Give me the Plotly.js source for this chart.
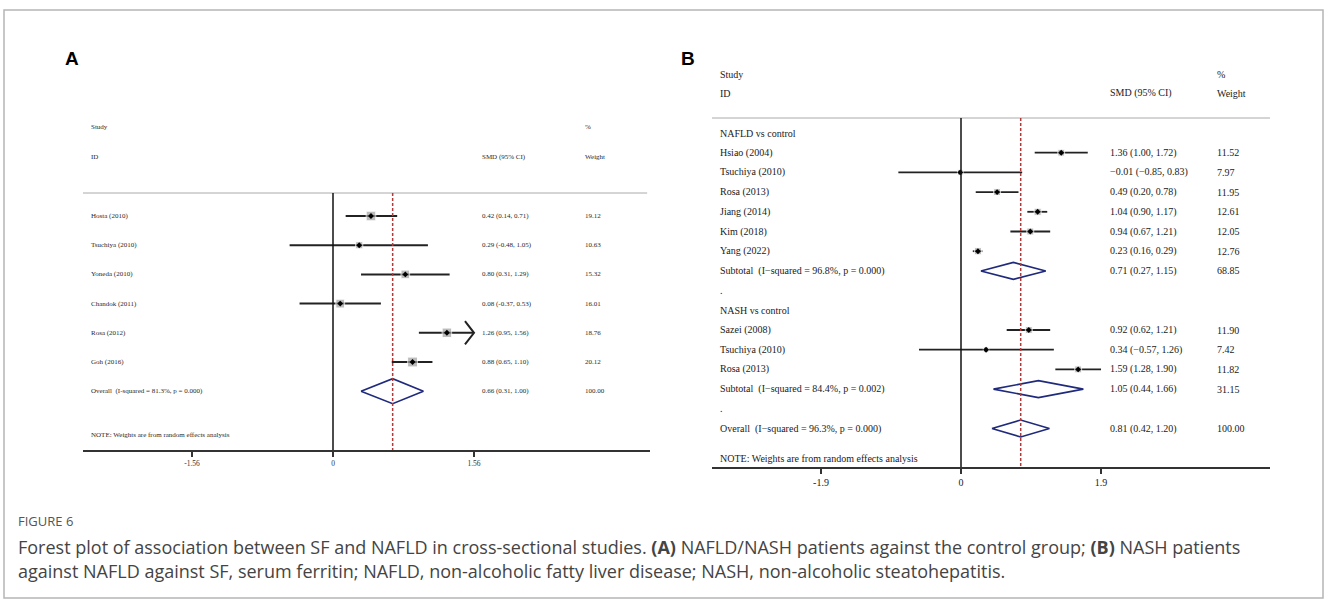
<!DOCTYPE html>
<html>
<head>
<meta charset="utf-8">
<script src="https://cdn.plot.ly/plotly-3.0.1.min.js"></script>
<style>html,body{margin:0;padding:0;background:#fff;}#chart{width:1328px;height:599px;}</style>
</head>
<body>
<div id="chart"></div>
<script>
// ---------- Panel A data ----------
const A_studies = ["Hosta (2010)", "Tsuchiya (2010)", "Yoneda (2010)", "Chandok (2011)", "Rosa (2012)", "Goh (2016)"];
const A_es = [0.42, 0.29, 0.80, 0.08, 1.26, 0.88];
const A_lo = [0.14, -0.48, 0.31, -0.37, 0.95, 0.65];
const A_hi = [0.71, 1.05, 1.29, 0.53, 1.56, 1.10];
const A_wt = [19.12, 10.63, 15.32, 16.01, 18.76, 20.12];
const A_overallLabel = "Overall  (I-squared = 81.3%, p = 0.000)";
const A_overall = [0.66, 0.31, 1.00];
const A_overallWt = 100.00;
const A_ticks = [-1.56, 0, 1.56];
const A_tickText = ["-1.56", "0", "1.56"];

// ---------- Panel B data ----------
const B_groups = ["NAFLD vs control", "NASH vs control"];
const B_studies = ["Hsiao (2004)", "Tsuchiya (2010)", "Rosa (2013)", "Jiang (2014)", "Kim (2018)", "Yang (2022)",
                   "Sazei (2008)", "Tsuchiya (2010)", "Rosa (2013)"];
const B_group = [0, 0, 0, 0, 0, 0, 1, 1, 1];
const B_es = [1.36, -0.01, 0.49, 1.04, 0.94, 0.23, 0.92, 0.34, 1.59];
const B_lo = [1.00, -0.85, 0.20, 0.90, 0.67, 0.16, 0.62, -0.57, 1.28];
const B_hi = [1.72, 0.83, 0.78, 1.17, 1.21, 0.29, 1.21, 1.26, 1.90];
const B_wt = [11.52, 7.97, 11.95, 12.61, 12.05, 12.76, 11.90, 7.42, 11.82];
const B_subLabels = ["Subtotal  (I\u2212squared = 96.8%, p = 0.000)", "Subtotal  (I\u2212squared = 84.4%, p = 0.002)"];
const B_subEs = [0.71, 1.05];
const B_subLo = [0.27, 0.44];
const B_subHi = [1.15, 1.66];
const B_subWt = [68.85, 31.15];
const B_overallLabel = "Overall  (I\u2212squared = 96.3%, p = 0.000)";
const B_overall = [0.81, 0.42, 1.20];
const B_overallWt = 100.00;
const B_ticks = [-1.9, 0, 1.9];
const B_tickText = ["-1.9", "0", "1.9"];

const noteText = "NOTE: Weights are from random effects analysis";

// ---------- helpers ----------
const W = 1328, H = 599;
const px = x => x / W;
const py = y => 1 - y / H;
function fmt(v, minus) { return (v < 0 ? minus : "") + Math.abs(v).toFixed(2); }
function ciText(e, l, h, minus) { return fmt(e, minus) + " (" + fmt(l, minus) + ", " + fmt(h, minus) + ")"; }

const serif = "Liberation Serif, Times New Roman, serif";
const annotations = [];
const shapes = [];
const traces = [];

function txt(xref, yref, x, y, text, size, color) {
  annotations.push({xref: xref, yref: yref, x: x, y: y, text: text, showarrow: false,
    xanchor: "left", yanchor: "middle", font: {family: serif, size: size, color: color || "#222"}});
}

// ---------- Panel A geometry ----------
const A_x0 = 83, A_x1 = 650, A_zero = 333, A_ppu = 90.4;
const A_rowTop = 216, A_rowH = 29.2, A_axisY = 450, A_domTop = 60;
const A_range = [(A_x0 - A_zero) / A_ppu, (A_x1 - A_zero) / A_ppu];
const A_yr = [(A_axisY - A_rowTop) / A_rowH, (A_domTop - A_rowTop) / A_rowH];
const A_lx = (89 - A_zero) / A_ppu, A_sx = (480 - A_zero) / A_ppu, A_wx = (583 - A_zero) / A_ppu;
const A_sep = (193 - A_rowTop) / A_rowH;
const A_fs = 7, A_col = "#2a2a2a";

txt("x", "y", A_lx, (127 - A_rowTop) / A_rowH, "Study", A_fs, A_col);
txt("x", "y", A_lx, (157 - A_rowTop) / A_rowH, "ID", A_fs, A_col);
txt("x", "y", A_sx, (157 - A_rowTop) / A_rowH, "SMD (95% CI)", A_fs, A_col);
txt("x", "y", A_wx, (127 - A_rowTop) / A_rowH, "%", A_fs, A_col);
txt("x", "y", A_wx, (157 - A_rowTop) / A_rowH, "Weight", A_fs, A_col);

const A_clip = Math.max(...A_ticks);
const A_ciX = [], A_ciY = [], A_arrX = [], A_arrY = [];
A_studies.forEach((s, i) => {
  txt("x", "y", A_lx, i, s, A_fs, A_col);
  txt("x", "y", A_sx, i, ciText(A_es[i], A_lo[i], A_hi[i], "-"), A_fs, A_col);
  txt("x", "y", A_wx, i, A_wt[i].toFixed(2), A_fs, A_col);
  const hi = Math.min(A_hi[i], A_clip);
  A_ciX.push(A_lo[i], hi, null); A_ciY.push(i, i, null);
  if (A_hi[i] >= A_clip) {
    A_arrX.push(A_clip - 0.1, A_clip, A_clip - 0.1, null);
    A_arrY.push(i - 0.4, i, i + 0.4, null);
  }
});
const A_ovRow = A_studies.length;
txt("x", "y", A_lx, A_ovRow, A_overallLabel, A_fs, A_col);
txt("x", "y", A_sx, A_ovRow, ciText(A_overall[0], A_overall[1], A_overall[2], "-"), A_fs, A_col);
txt("x", "y", A_wx, A_ovRow, A_overallWt.toFixed(2), A_fs, A_col);
txt("x", "y", A_lx, A_ovRow + 1.5, noteText, A_fs, A_col);

traces.push({x: A_ciX, y: A_ciY, xaxis: "x", yaxis: "y", mode: "lines", line: {color: "#222", width: 2}, hoverinfo: "skip"});
traces.push({x: A_arrX, y: A_arrY, xaxis: "x", yaxis: "y", mode: "lines", line: {color: "#222", width: 2}, hoverinfo: "skip"});
traces.push({x: A_es, y: A_es.map((_, i) => i), xaxis: "x", yaxis: "y", mode: "markers",
  marker: {symbol: "square", color: "#a0a0a0", size: A_wt.map(w => 2.2 * Math.sqrt(w))}, hoverinfo: "skip"});
traces.push({x: A_es, y: A_es.map((_, i) => i), xaxis: "x", yaxis: "y", mode: "markers",
  marker: {symbol: "diamond", color: "#000", size: 4.5}, hoverinfo: "skip"});
const dh = 0.43;
function diamond(xa, ya, e, l, h, r, hh) {
  traces.push({x: [l, e, h, e, l], y: [r, r - hh, r, r + hh, r], xaxis: xa, yaxis: ya, mode: "lines",
    line: {color: "#1f2a7c", width: 1.6}, hoverinfo: "skip"});
}
diamond("x", "y", A_overall[0], A_overall[1], A_overall[2], A_ovRow, dh);

shapes.push({type: "line", xref: "x domain", yref: "y", x0: 0, x1: 0.995, y0: A_sep, y1: A_sep, line: {color: "#aaa", width: 1}});
shapes.push({type: "line", xref: "x", yref: "y", x0: 0, x1: 0, y0: A_sep, y1: A_yr[0], line: {color: "#111", width: 1.5}});
shapes.push({type: "line", xref: "x", yref: "y", x0: A_overall[0], x1: A_overall[0], y0: A_sep, y1: A_yr[0], line: {color: "#b03a3a", width: 1.5, dash: "3px,2px"}});

// ---------- Panel B geometry ----------
const B_x0 = 712, B_x1 = 1270, B_zero = 961, B_ppu = 73.7;
const B_rowTop = 133, B_rowH = 19.7, B_axisY = 467, B_domTop = 60;
const B_range = [(B_x0 - B_zero) / B_ppu, (B_x1 - B_zero) / B_ppu];
const B_yr = [(B_axisY - B_rowTop) / B_rowH, (B_domTop - B_rowTop) / B_rowH];
const B_lx = (718 - B_zero) / B_ppu, B_sx = (1108 - B_zero) / B_ppu, B_wx = (1215 - B_zero) / B_ppu;
const B_sep = (118 - B_rowTop) / B_rowH;
const B_fs = 10, B_col = "#1a1a1a";

txt("x2", "y2", B_lx, (74 - B_rowTop) / B_rowH, "Study", B_fs, B_col);
txt("x2", "y2", B_lx, (93 - B_rowTop) / B_rowH, "ID", B_fs, B_col);
txt("x2", "y2", B_sx, (93 - B_rowTop) / B_rowH, "SMD (95% CI)", B_fs, B_col);
txt("x2", "y2", B_wx, (74 - B_rowTop) / B_rowH, "%", B_fs, B_col);
txt("x2", "y2", B_wx, (93 - B_rowTop) / B_rowH, "Weight", B_fs, B_col);

const B_ciX = [], B_ciY = [], B_mx = [], B_my = [], B_ms = [];
let row = 0;
B_groups.forEach((g, gi) => {
  txt("x2", "y2", B_lx, row, g, B_fs, B_col);
  row++;
  B_studies.forEach((s, i) => {
    if (B_group[i] !== gi) return;
    txt("x2", "y2", B_lx, row, s, B_fs, B_col);
    txt("x2", "y2", B_sx, row, ciText(B_es[i], B_lo[i], B_hi[i], "\u2212"), B_fs, B_col);
    txt("x2", "y2", B_wx, row, B_wt[i].toFixed(2), B_fs, B_col);
    B_ciX.push(B_lo[i], B_hi[i], null); B_ciY.push(row, row, null);
    B_mx.push(B_es[i]); B_my.push(row); B_ms.push(2.0 * Math.sqrt(B_wt[i]));
    row++;
  });
  txt("x2", "y2", B_lx, row, B_subLabels[gi], B_fs, B_col);
  txt("x2", "y2", B_sx, row, ciText(B_subEs[gi], B_subLo[gi], B_subHi[gi], "\u2212"), B_fs, B_col);
  txt("x2", "y2", B_wx, row, B_subWt[gi].toFixed(2), B_fs, B_col);
  diamond("x2", "y2", B_subEs[gi], B_subLo[gi], B_subHi[gi], row, dh);
  row++;
  txt("x2", "y2", B_lx, row, ".", B_fs, B_col);
  row++;
});
txt("x2", "y2", B_lx, row, B_overallLabel, B_fs, B_col);
txt("x2", "y2", B_sx, row, ciText(B_overall[0], B_overall[1], B_overall[2], "\u2212"), B_fs, B_col);
txt("x2", "y2", B_wx, row, B_overallWt.toFixed(2), B_fs, B_col);
diamond("x2", "y2", B_overall[0], B_overall[1], B_overall[2], row, dh);
txt("x2", "y2", B_lx, row + 1.5, noteText, B_fs, B_col);

traces.push({x: B_ciX, y: B_ciY, xaxis: "x2", yaxis: "y2", mode: "lines", line: {color: "#222", width: 1.8}, hoverinfo: "skip"});
traces.push({x: B_mx, y: B_my, xaxis: "x2", yaxis: "y2", mode: "markers",
  marker: {symbol: "square", color: "#a0a0a0", size: B_ms}, hoverinfo: "skip"});
traces.push({x: B_mx, y: B_my, xaxis: "x2", yaxis: "y2", mode: "markers",
  marker: {symbol: "diamond", color: "#000", size: 4.5}, hoverinfo: "skip"});

shapes.push({type: "line", xref: "x2 domain", yref: "y2", x0: 0, x1: 1, y0: B_sep, y1: B_sep, line: {color: "#aaa", width: 1}});
shapes.push({type: "line", xref: "x2", yref: "y2", x0: 0, x1: 0, y0: B_sep, y1: B_yr[0], line: {color: "#111", width: 1.5}});
shapes.push({type: "line", xref: "x2", yref: "y2", x0: B_overall[0], x1: B_overall[0], y0: B_sep, y1: B_yr[0], line: {color: "#b03a3a", width: 1.5, dash: "3px,2px"}});

// ---------- frame, panel letters, caption ----------
shapes.push({type: "rect", xref: "paper", yref: "paper", x0: px(4), x1: px(1323), y0: py(598), y1: py(10), line: {color: "#b5b5b5", width: 1.5}});
annotations.push({xref: "paper", yref: "paper", x: px(63), y: py(58), text: "<b>A</b>", showarrow: false, xanchor: "left", yanchor: "middle",
  font: {family: "Liberation Sans, Arial, sans-serif", size: 19, color: "#000"}});
annotations.push({xref: "paper", yref: "paper", x: px(679), y: py(58), text: "<b>B</b>", showarrow: false, xanchor: "left", yanchor: "middle",
  font: {family: "Liberation Sans, Arial, sans-serif", size: 19, color: "#000"}});
annotations.push({xref: "paper", yref: "paper", x: px(16), y: py(521), text: "FIGURE 6", showarrow: false, xanchor: "left", yanchor: "middle",
  font: {family: "Open Sans, sans-serif", size: 13, color: "#555"}});
annotations.push({xref: "paper", yref: "paper", x: px(16), y: py(547),
  text: "Forest plot of association between SF and NAFLD in cross-sectional studies. <b>(A)</b> NAFLD/NASH patients against the control group; <b>(B)</b> NASH patients",
  showarrow: false, xanchor: "left", yanchor: "middle", font: {family: "Open Sans, sans-serif", size: 18, color: "#444"}});
annotations.push({xref: "paper", yref: "paper", x: px(16), y: py(571),
  text: "against NAFLD against SF, serum ferritin; NAFLD, non-alcoholic fatty liver disease; NASH, non-alcoholic steatohepatitis.",
  showarrow: false, xanchor: "left", yanchor: "middle", font: {family: "Open Sans, sans-serif", size: 18, color: "#444"}});

const layout = {
  width: W, height: H, margin: {l: 0, r: 0, t: 0, b: 0}, paper_bgcolor: "#fff", plot_bgcolor: "rgba(0,0,0,0)",
  showlegend: false,
  xaxis: {domain: [px(A_x0), px(A_x1)], range: A_range, anchor: "y", tickvals: A_ticks, ticktext: A_tickText,
    showgrid: false, zeroline: false, showline: true, linecolor: "#333", linewidth: 1.5, ticks: "outside",
    ticklen: 5, tickwidth: 1.5, tickcolor: "#333", tickfont: {family: serif, size: 7.5, color: "#333"}},
  yaxis: {domain: [py(A_axisY), py(A_domTop)], range: A_yr, visible: false, showgrid: false, zeroline: false},
  xaxis2: {domain: [px(B_x0), px(B_x1)], range: B_range, anchor: "y2", tickvals: B_ticks, ticktext: B_tickText,
    showgrid: false, zeroline: false, showline: true, linecolor: "#333", linewidth: 1.5, ticks: "outside",
    ticklen: 5, tickwidth: 1.5, tickcolor: "#333", tickfont: {family: serif, size: 10, color: "#222"}},
  yaxis2: {domain: [py(B_axisY), py(B_domTop)], range: B_yr, visible: false, showgrid: false, zeroline: false},
  annotations: annotations,
  shapes: shapes
};
traces.forEach(t => { t.cliponaxis = false; t.showlegend = false; });
Plotly.newPlot("chart", traces, layout, {staticPlot: true, displayModeBar: false});
</script>
</body>
</html>
